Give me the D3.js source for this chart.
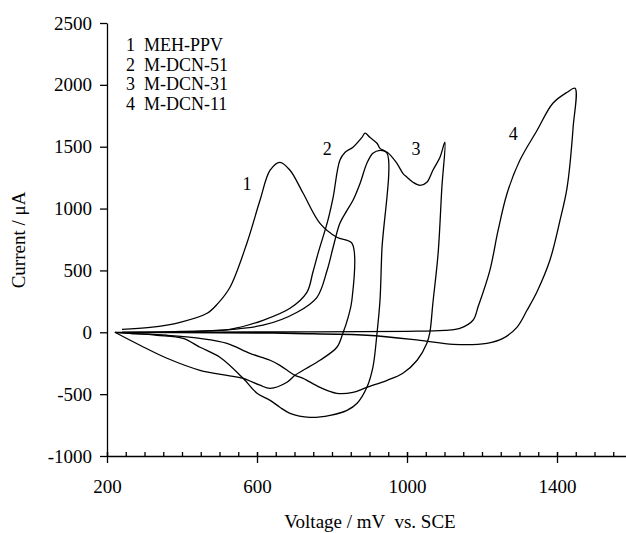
<!DOCTYPE html>
<html>
<head>
<meta charset="utf-8">
<script src="https://cdn.jsdelivr.net/npm/d3@7"></script>
<style>
  body { margin: 0; background: #fff; }
  text { font-family: "Liberation Serif", "Times New Roman", serif; fill: #000; }
</style>
</head>
<body>
<div id="chart"></div>
<script>
// cyclic voltammograms, [voltage mV, current uA]
const mehPpv = [
  [240, 24], [315, 40], [395, 81], [467, 154], [496, 234], [528, 364],
  [573, 720], [608, 1067], [635, 1310], [661, 1374], [688, 1310], [723, 1124],
  [768, 881], [813, 768], [853, 720],
  [853, 259], [843, 121], [829, -8], [813, -121], [768, -226], [723, -307],
  [701, -348], [680, -404], [635, -453], [608, -428], [563, -372], [520, -348],
  [448, -307], [360, -210], [288, -105], [221, 0]
];
const mDcn51 = [
  [240, 0], [395, 8], [528, 24], [616, 97], [688, 194], [733, 323], [749, 485],
  [763, 640], [789, 905], [803, 1091], [821, 1390], [835, 1455],
  [856, 1496], [880, 1576], [888, 1609], [901, 1576], [920, 1528], [928, 1487],
  [947, 1447],
  [933, 663], [928, 259], [920, -8], [909, -283], [893, -445], [867, -574],
  [840, -631], [795, -671], [741, -687], [688, -655], [661, -606], [635, -550],
  [600, -493], [563, -372], [501, -202], [448, -121], [403, -49], [333, -24],
  [261, -8], [221, 0]
];
const mDcn31 = [
  [240, 0], [448, 8], [616, 57], [707, 162], [760, 283], [787, 501], [803, 687],
  [821, 881], [840, 986], [856, 1067], [875, 1205], [893, 1366], [909, 1447],
  [928, 1471], [947, 1455], [973, 1366], [989, 1285], [1000, 1253], [1016, 1213],
  [1035, 1188], [1053, 1213], [1069, 1310], [1088, 1415], [1101, 1536],
  [1093, 1172], [1083, 639], [1069, 235], [1061, 0], [1053, -89], [1027, -226],
  [989, -331], [947, -388], [893, -445], [856, -485], [813, -493], [768, -445],
  [723, -372], [701, -348], [661, -267], [635, -226], [581, -170], [520, -89],
  [448, -49], [360, -24], [261, -8], [221, 0]
];
const mDcn11 = [
  [230, 0], [600, 3], [1000, 8], [1100, 16], [1141, 32], [1176, 97], [1190, 210],
  [1221, 501], [1243, 825], [1267, 1124], [1301, 1390], [1347, 1633],
  [1389, 1851], [1427, 1940], [1448, 1972],
  [1443, 1657], [1427, 1172], [1408, 905], [1381, 582], [1347, 330], [1320, 178],
  [1293, 40], [1256, -49], [1213, -89], [1123, -97], [1035, -65], [893, -24],
  [700, -10], [500, -4], [230, 0]
];
const series = [mehPpv, mDcn51, mDcn31, mDcn11];
const legendLabels = ["1  MEH-PPV", "2  M-DCN-51", "3  M-DCN-31", "4  M-DCN-11"];
const curveTags = [
  { tag: "1", v: 573, i: 1205 },
  { tag: "2", v: 787, i: 1480 },
  { tag: "3", v: 1024, i: 1480 },
  { tag: "4", v: 1283, i: 1609 }
];
const yTicks = [-1000, -500, 0, 500, 1000, 1500, 2000, 2500];
const xTicks = [200, 600, 1000, 1400];
const xMinor = d3.range(200, 1601, 50);

const width = 626, height = 533;

const svg = d3.select('#chart')
  .append('svg')
  .attr('width', width)
  .attr('height', height);

const x = d3.scaleLinear().domain([200, 1600]).range([107, 632]);
const y = d3.scaleLinear().domain([-1000, 2500]).range([456, 23]);

// axes
const yAxis = d3.axisLeft(y)
  .tickValues(yTicks)
  .tickSize(7)
  .tickSizeOuter(0)
  .tickPadding(8)
  .tickFormat(d => String(d));

svg.append('g')
  .attr('transform', `translate(${x(200)},0)`)
  .call(yAxis)
  .call(g => g.selectAll('text').style('font-size', '19px').style('font-family', '"Liberation Serif", serif'));

const xAxis = d3.axisBottom(x)
  .tickValues(xTicks)
  .tickSize(7)
  .tickSizeOuter(0)
  .tickPadding(17)
  .tickFormat(d => String(d));

svg.append('g')
  .attr('transform', `translate(0,${y(-1000)})`)
  .call(xAxis)
  .call(g => g.selectAll('text').style('font-size', '19px').style('font-family', '"Liberation Serif", serif'))
  .call(g => g.selectAll('.tick line').attr('y1', -4));

svg.append('g')
  .attr('transform', `translate(0,${y(-1000)})`)
  .call(d3.axisTop(x).tickValues(xMinor).tickSize(4).tickSizeOuter(0).tickFormat(''))
  .call(g => g.select('.domain').remove());

svg.selectAll('.domain, .tick line').attr('stroke', '#000').attr('stroke-width', 1.3);

// curves
const line = d3.line()
  .x(d => x(d[0]))
  .y(d => y(d[1]))
  .curve(d3.curveCatmullRom.alpha(0.5));

svg.append('g')
  .selectAll('path')
  .data(series)
  .enter()
  .append('path')
  .attr('d', line)
  .attr('fill', 'none')
  .attr('stroke', '#000')
  .attr('stroke-width', 1.3);

// curve numbers
svg.append('g')
  .selectAll('text')
  .data(curveTags)
  .enter()
  .append('text')
  .attr('x', d => x(d.v))
  .attr('y', d => y(d.i))
  .attr('text-anchor', 'middle')
  .attr('dy', '0.35em')
  .style('font-size', '18px')
  .text(d => d.tag);

// legend
svg.append('g')
  .selectAll('text')
  .data(legendLabels)
  .enter()
  .append('text')
  .attr('x', 126)
  .attr('y', (d, k) => 51 + k * 19.5)
  .style('font-size', '18px')
  .style('white-space', 'pre')
  .text(d => d);

// axis titles
svg.append('text')
  .attr('x', 370)
  .attr('y', 528)
  .attr('text-anchor', 'middle')
  .style('font-size', '19px')
  .style('white-space', 'pre')
  .text('Voltage / mV  vs. SCE');

svg.append('text')
  .attr('transform', 'translate(25,240) rotate(-90)')
  .attr('text-anchor', 'middle')
  .style('font-size', '19px')
  .text('Current / \u03bcA');
</script>
</body>
</html>
